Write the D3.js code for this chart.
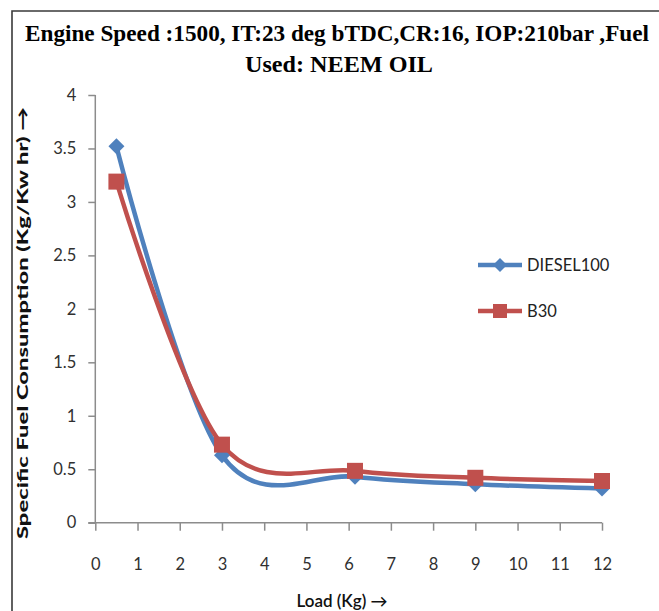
<!DOCTYPE html>
<html><head><meta charset="utf-8">
<script src="https://cdn.jsdelivr.net/npm/d3@7"></script>
<style>body{margin:0;background:#fff}svg{display:block}</style>
</head><body>
<svg id="c" width="659" height="611"></svg>
<script>
const loads = [0.5, 3, 6.15, 9, 12];
const diesel100 = [3.52, 0.63, 0.43, 0.36, 0.32];
const b30 = [3.19, 0.73, 0.485, 0.42, 0.39];
const seriesNames = ["DIESEL100", "B30"];
const xTicks = [0,1,2,3,4,5,6,7,8,9,10,11,12];
const yTicks = [0,0.5,1,1.5,2,2.5,3,3.5,4];
const titleLines = ["Engine Speed :1500, IT:23 deg bTDC,CR:16, IOP:210bar ,Fuel", "Used: NEEM OIL"];
const xTitle = "Load (Kg) →";
const yTitle = "Specific Fuel Consumption (Kg/Kw hr) →";

const svg = d3.select("#c");
const x = d3.scaleLinear().domain([0,12]).range([95.3, 602]);
const y = d3.scaleLinear().domain([0,4]).range([522.7, 95]);
const axisColor = "#8c8c8c";

// frame
svg.append("path").attr("d","M12,700 L12,11 L700,11").attr("fill","none").attr("stroke","#3a3a3a").attr("stroke-width",1.6);

// title
svg.append("text").attr("x",337).attr("y",40.5).attr("text-anchor","middle")
  .attr("font-family","Liberation Serif").attr("font-weight","bold").attr("font-size",23)
  .attr("textLength",624).attr("lengthAdjust","spacingAndGlyphs").text(titleLines[0]);
svg.append("text").attr("x",339).attr("y",72).attr("text-anchor","middle")
  .attr("font-family","Liberation Serif").attr("font-weight","bold").attr("font-size",23)
  .attr("textLength",188).attr("lengthAdjust","spacingAndGlyphs").text(titleLines[1]);

// axes
const yAxis = d3.axisLeft(y).tickValues(yTicks).tickSize(7).tickPadding(12).tickFormat(d3.format("~g"));
const gy = svg.append("g").attr("transform",`translate(${x(0)},0)`).call(yAxis);
const xAxis = d3.axisBottom(x).tickValues(xTicks).tickSize(8).tickPadding(28);
const gx = svg.append("g").attr("transform",`translate(0,${y(0)})`).call(xAxis);
[gx,gy].forEach(g=>{
  g.select(".domain").attr("stroke",axisColor).attr("stroke-width",1.5);
  g.selectAll(".tick line").attr("stroke",axisColor).attr("stroke-width",1.5);
  g.selectAll(".tick text").attr("font-family","Lato").attr("font-size",16.5).attr("fill","#303030");
});
gx.select(".domain").attr("d",`M${x(0)-7},0H${x(12)}`);
gy.select(".domain").attr("d",`M0,${y(4)}V${y(0)}`);

// axis titles
svg.append("text").attr("x",342).attr("y",607).attr("text-anchor","middle")
  .attr("font-family","Lato").attr("font-size",17).attr("font-weight","600").attr("fill","#111").text(xTitle);
svg.append("text").attr("transform","translate(28,323) rotate(-90)").attr("text-anchor","middle")
  .attr("font-family","Lato").attr("font-weight","900").attr("font-size",15.5).attr("fill","#111")
  .attr("textLength",432).attr("lengthAdjust","spacingAndGlyphs").text(yTitle);

// lines
const colors = ["#4F81BD","#C0504D"];
const data = [diesel100, b30];
const line = d3.line().x((d,i)=>x(loads[i])).y(d=>y(d)).curve(d3.curveCardinal.tension(0));
data.forEach((s,k)=>{
  svg.append("path").datum(s).attr("d",line).attr("fill","none").attr("stroke",colors[k]).attr("stroke-width",4.5).attr("stroke-linejoin","round");
});
// markers
const diamond = (cx,cy,r)=>`M${cx},${cy-r}L${cx+r},${cy}L${cx},${cy+r}L${cx-r},${cy}Z`;
svg.append("g").selectAll("path").data(diesel100).join("path")
  .attr("d",(d,i)=>diamond(x(loads[i]),y(d),8)).attr("fill",colors[0]);
svg.append("g").selectAll("rect").data(b30).join("rect")
  .attr("x",(d,i)=>x(loads[i])-8).attr("y",d=>y(d)-8).attr("width",16).attr("height",16).attr("fill",colors[1]);

// legend
const ly = [265, 311];
seriesNames.forEach((n,k)=>{
  svg.append("line").attr("x1",478).attr("x2",522).attr("y1",ly[k]).attr("y2",ly[k]).attr("stroke",colors[k]).attr("stroke-width",4.5);
  if(k===0) svg.append("path").attr("d",diamond(500,ly[k],7)).attr("fill",colors[0]);
  else svg.append("rect").attr("x",493).attr("y",ly[k]-7).attr("width",14).attr("height",14).attr("fill",colors[1]);
  svg.append("text").attr("x",527).attr("y",ly[k]+6).attr("font-family","Lato").attr("font-size",16.5).attr("fill","#222").text(n);
});
</script>
</body></html>
